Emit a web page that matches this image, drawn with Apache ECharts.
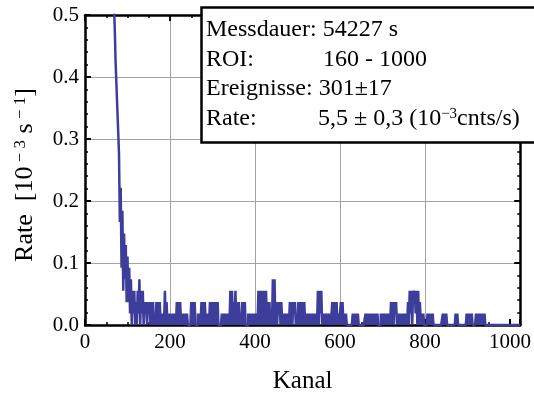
<!DOCTYPE html>
<html><head><meta charset="utf-8">
<script src="https://cdn.jsdelivr.net/npm/echarts@6/dist/echarts.min.js"></script>
<style>html,body{margin:0;padding:0;background:#fff}#c{width:534px;height:399px}</style>
</head><body><div id="c"></div><script>
// measurement
const measTime = 54227; // s
const binWidth = 2;     // channels per bin
// counts per 2-channel bin (1 count = 1/54227 s)
const segAStart = 60;
const segA = [45,40,36,32,28,26,23,21,19,17, 15,9,12,5,10,3,8,4,7,2,
              6,2,5,1,4,0,3,1,3,0, 2,0,3,1,4,0,3,1,3,0, 2,1,2,0,2,1];
const segBStart = 152;
const segB = [2,0,2,0,2, 0,1, 0,2,0,2,0,2, 0,1,0,1,0, 3,0, 2,0,1,
              0,1,0,1,0,1,0,1,0, 2,0,2,0,2,0, 1,0,1,0,1,0,1, 0,0,0,0,
              2,0,2,0,2,0, 0,0, 1,0,1,0, 2,0,2,0,2,0, 1,0,1,
              0,2,0,2,0,2,1,0,2,0,2,0, 0,0,0, 1,0,1,0,1,0,1,0,1,0,
              3,0,3,0,2,0,3,0, 2,0,2,0,1,0,2];
const segCStart = 372;
const segC = [2,0,2, 0,0,0, 1,0,1,0,1,0,1, 0, 1,0,1,0, 3,0,3,0,3, 0,1, 3,0,3,0,
              2,0,2,0, 1,0, 4,0,4, 0,2,0,2,1,2,0,2,0, 1,0,1,0,1,0,1,
              0,2,0,2,0,2,1,2, 0,1,0, 2,0,2,0,2,1,0,2,0,
              1,0,1,0,1,0,1,0,1,0,1,0,1, 0,3,0,3,1,3,0,
              1,0,1,0,1,0,1,0,1,0, 1,2,0,2,0,1];
const segDStart = 592;
const segD = [2,0, 1,0,1, 2,0,2, 0,1,0,1, 0,0,0,0,0,0,0, 1,0,1,0,1,0,1,0,
              0,0,0,0,0,0,0, 1,0,1,0,1,0,1,0,1,0,1,0,1,0,1,0, 0,0,
              1,0,1,0,1,0,1,0,1,0,1,0, 2,0,2,0,2,1,2,0,
              1,0,1,0,1,0,1,0,1,0,1,0, 2,0,3,1,3,0,3,2,3,1,3,0,3,
              0,2,0, 1,0,1,0, 0,0,0, 1,0,1];
const segEStart = 812;
const segE = [0,1,0,1,0, 0,0,0,0,0,0,0,0,0,0, 1,0,1,0,1,0, 0,0,0,0,0,0,0,0,0,
              1,0,1,0, 0,0,0,0,0,0,0,0,0, 1,0,1,0,1,0,1,0, 0,0,0,
              1,0,1,0,1,0,1,0,1,0,1,0,
              0,0,0,0,0,0,0,0,0,0, 0,0,0,0,0,0,0,0,0,0, 0,0,0,0,0,0,0,0,0,0, 0,0,0,0,0,0,0,0,0,0];
const xTickLabels = ['0','200','400','600','800','1000'];
const yTickLabels = ['0.0','0.1','0.2','0.3','0.4','0.5'];

const segments = [[segAStart, segA],[segBStart, segB],[segCStart, segC],[segDStart, segD],[segEStart, segE]];
const data = [];
let lastEnd = 0;
segments.forEach(([s, arr]) => {
  arr.forEach((c, k) => data.push([s + k * binWidth, c * 1000 / measTime]));
  lastEnd = s + arr.length * binWidth;
});
data.push([lastEnd, 0]);

const FONT = '"Liberation Serif", "Times New Roman", serif';
const gridGray = '#a3a3a3';
const lineBlue = '#3d3d9b';

const chart = echarts.init(document.getElementById('c'), null, {renderer: 'canvas'});
const axisLineStyle = {color: '#000', width: 2.5};
const tickStyle = {color: '#000', width: 2};
const minorStyle = {color: '#000', width: 1.5};
const clear = 'rgba(0,0,0,0)';

chart.setOption({
  animation: false,
  backgroundColor: '#fff',
  grid: {left: 85, right: 5, top: 15, bottom: 73, containLabel: false},
  xAxis: [{
    type: 'value', min: 0, max: 1024, interval: 200, position: 'bottom',
    axisLine: {show: true, onZero: false, lineStyle: axisLineStyle},
    axisTick: {show: true, inside: true, length: 6, lineStyle: tickStyle},
    minorTick: {show: true, splitNumber: 4, length: 3, lineStyle: minorStyle},
    axisLabel: {show: true, fontFamily: FONT, fontSize: 21, color: '#000', margin: 7, showMaxLabel: false,
      formatter: v => { const i = xTickLabels.indexOf(String(v)); return i >= 0 ? xTickLabels[i] : ''; }},
    splitLine: {show: true, lineStyle: {color: [clear, gridGray, gridGray, gridGray, gridGray, clear], width: 1}},
    name: 'Kanal', nameLocation: 'middle', nameGap: 44,
    nameTextStyle: {fontFamily: FONT, fontSize: 25, color: '#000'}
  }, {
    type: 'value', min: 0, max: 1024, interval: 200, position: 'top',
    axisLine: {show: true, onZero: false, lineStyle: axisLineStyle},
    axisTick: {show: true, inside: true, length: 6, lineStyle: tickStyle},
    minorTick: {show: true, splitNumber: 4, length: 3, lineStyle: minorStyle},
    axisLabel: {show: false}, splitLine: {show: false}
  }],
  yAxis: [{
    type: 'value', min: 0, max: 0.5, interval: 0.1, position: 'left',
    axisLine: {show: true, onZero: false, lineStyle: axisLineStyle},
    axisTick: {show: true, inside: true, length: 6, lineStyle: tickStyle},
    minorTick: {show: true, splitNumber: 5, length: 3, lineStyle: minorStyle},
    axisLabel: {show: true, fontFamily: FONT, fontSize: 21, color: '#000', margin: 6,
      formatter: v => yTickLabels[Math.round(v * 10)] || ''},
    splitLine: {show: true, lineStyle: {color: [clear, gridGray, gridGray, gridGray, gridGray, clear], width: 1}},
    name: 'Rate  [10{s| − 3} s{s| − 1}]', nameLocation: 'middle', nameGap: 47, nameRotate: 90,
    nameTextStyle: {fontFamily: FONT, fontSize: 26, color: '#000', padding: [0, 10, 0, 0],
      rich: {s: {fontFamily: FONT, fontSize: 17, color: '#000', verticalAlign: 'top'}}}
  }, {
    type: 'value', min: 0, max: 0.5, interval: 0.1, position: 'right',
    axisLine: {show: true, onZero: false, lineStyle: axisLineStyle},
    axisTick: {show: true, inside: true, length: 6, lineStyle: tickStyle},
    minorTick: {show: true, splitNumber: 5, length: 3, lineStyle: minorStyle},
    axisLabel: {show: false}, splitLine: {show: false}
  }],
  series: [{
    type: 'line', step: 'end', data: data, xAxisIndex: 0, yAxisIndex: 0,
    showSymbol: false, symbol: 'none', clip: true, z: 3,
    lineStyle: {color: lineBlue, width: 2.5}
  }],
  graphic: [
    {type: 'rect', z: 100, shape: {x: 201.5, y: 7.5, width: 340, height: 135},
     style: {fill: '#fff', stroke: '#000', lineWidth: 2.5}},
    {type: 'text', z: 101, style: {x: 206, y: 30, text: 'Messdauer: 54227 s', font: '24px ' + FONT, fill: '#000', verticalAlign: 'middle'}},
    {type: 'text', z: 101, style: {x: 206, y: 59.5, text: 'ROI:', font: '24px ' + FONT, fill: '#000', verticalAlign: 'middle'}},
    {type: 'text', z: 101, style: {x: 323, y: 59.5, text: '160 - 1000', font: '24px ' + FONT, fill: '#000', verticalAlign: 'middle'}},
    {type: 'text', z: 101, style: {x: 206, y: 89, text: 'Ereignisse: 301±17', font: '24px ' + FONT, fill: '#000', verticalAlign: 'middle'}},
    {type: 'text', z: 101, style: {x: 206, y: 119, text: 'Rate:', font: '24px ' + FONT, fill: '#000', verticalAlign: 'middle'}},
    {type: 'text', z: 101, style: {x: 318, y: 119, text: '5,5 ± 0,3 (10{s|−3}cnts/s)', font: '24px ' + FONT, fill: '#000', verticalAlign: 'middle',
      rich: {s: {fontFamily: FONT, fontSize: 15, fill: '#000', verticalAlign: 'top'}}}}
  ]
});
</script></body></html>
